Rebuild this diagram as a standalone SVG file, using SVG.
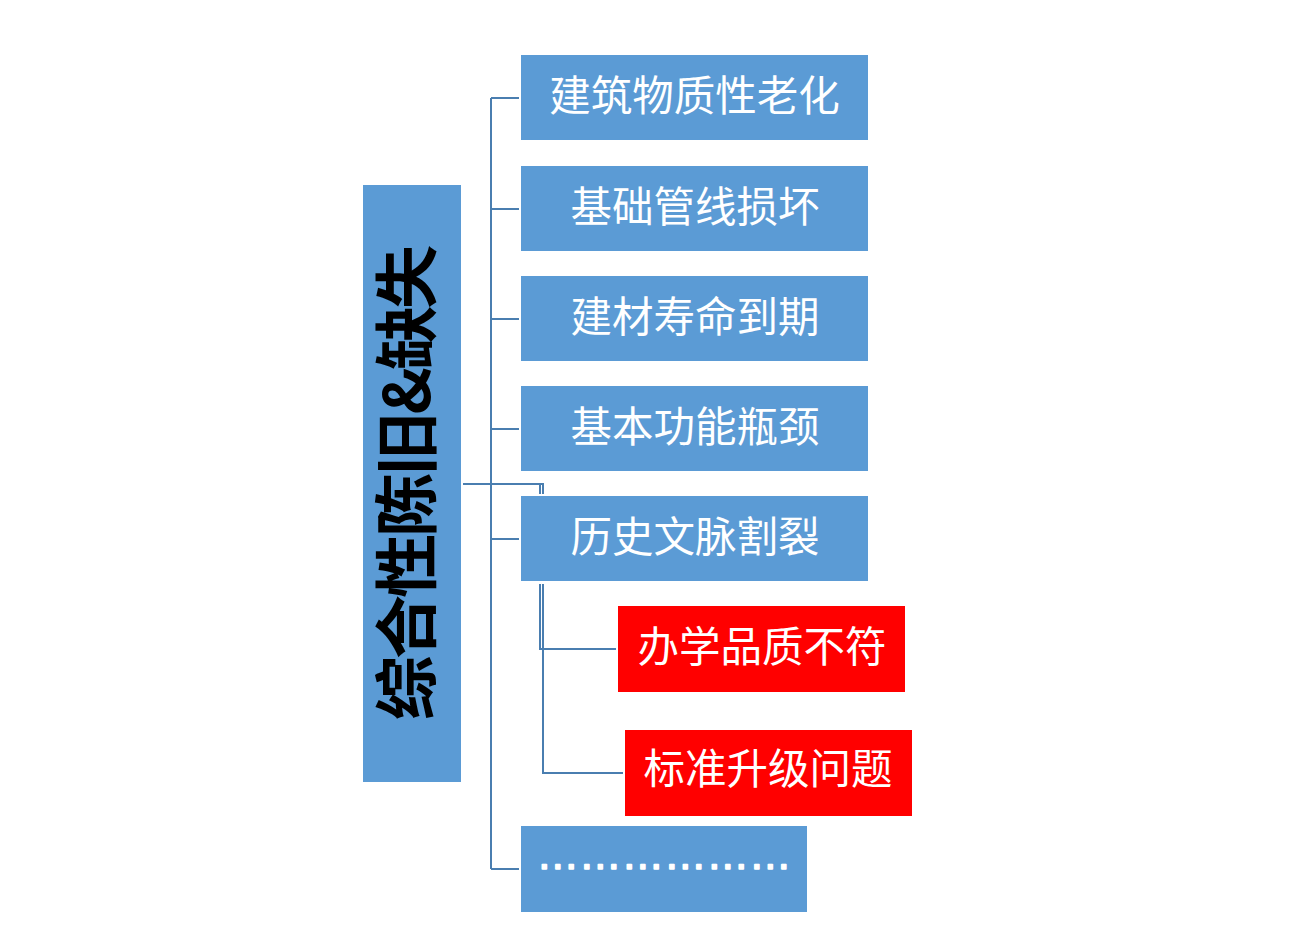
<svg xmlns="http://www.w3.org/2000/svg" width="1298" height="941" viewBox="0 0 1298 941">
<style>
.box{fill:#5B9BD5}
.red{fill:#FF0000}
.t{font-family:"Noto Sans CJK SC","Noto Sans",sans-serif;font-size:41.5px;fill:#FFFFFF;text-anchor:middle}
.main{font-family:"Noto Sans CJK SC","Noto Sans",sans-serif;font-size:64px;font-weight:bold;fill:#000000;text-anchor:middle}
.dots{font-family:"Liberation Sans",sans-serif;font-size:42.5px;fill:#FFFFFF;stroke:#FFFFFF;stroke-width:1.6;stroke-linejoin:round;text-anchor:middle}
.c{fill:none;stroke:#4A7EB0;stroke-width:2}
</style>
<rect width="1298" height="941" fill="#FFFFFF"/>
<g id="connectors">
<path class="c" d="M491 98 V869"/>
<path class="c" d="M491 98 H519"/>
<path class="c" d="M491 209 H519"/>
<path class="c" d="M491 319 H519"/>
<path class="c" d="M491 429 H519"/>
<path class="c" d="M491 539 H519"/>
<path class="c" d="M491 869 H519"/>
<path class="c" d="M463 484 H544"/>
<path class="c" d="M540 484 V494"/>
<path class="c" d="M543 484 V494"/>
<path class="c" d="M540 584 V649 H616"/>
<path class="c" d="M543 584 V773 H623"/>
</g>
<g id="node-main">
<rect class="box" x="363" y="185" width="98" height="597"/>
<text class="main" transform="translate(430,482.5) rotate(-90)" x="0" y="0" textLength="475" lengthAdjust="spacing">综合性陈旧&amp;缺失</text>
</g>
<g id="node-1">
<rect class="box" x="521" y="55" width="347" height="85"/>
<text class="t" x="694.5" y="110.5">建筑物质性老化</text>
</g>
<g id="node-2">
<rect class="box" x="521" y="166" width="347" height="85"/>
<text class="t" x="695" y="221.5">基础管线损坏</text>
</g>
<g id="node-3">
<rect class="box" x="521" y="276" width="347" height="85"/>
<text class="t" x="695" y="331.5">建材寿命到期</text>
</g>
<g id="node-4">
<rect class="box" x="521" y="386" width="347" height="85"/>
<text class="t" x="695" y="441.5">基本功能瓶颈</text>
</g>
<g id="node-5">
<rect class="box" x="521" y="496" width="347" height="85"/>
<text class="t" x="695" y="551.5">历史文脉割裂</text>
</g>
<g id="node-6">
<rect class="red" x="618" y="606" width="287" height="86"/>
<text class="t" x="762" y="662">办学品质不符</text>
</g>
<g id="node-7">
<rect class="red" x="625" y="730" width="287" height="86"/>
<text class="t" x="768" y="784">标准升级问题</text>
</g>
<g id="node-8">
<rect class="box" x="521" y="826" width="286" height="86"/>
<text class="dots" x="664" y="869">………………</text>
</g>
</svg>
